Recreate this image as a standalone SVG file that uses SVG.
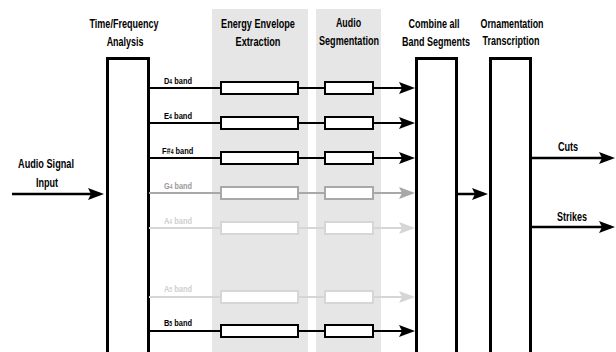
<svg xmlns="http://www.w3.org/2000/svg" width="616" height="352" viewBox="0 0 616 352">
<style>
.t{font-family:"Liberation Sans",Arial,sans-serif;font-weight:bold;font-size:12px;fill:#000;text-anchor:middle}
.b{font-family:"Liberation Sans",Arial,sans-serif;font-weight:bold;font-size:9.5px}
.sub{font-size:6.5px}
.box{fill:#fff;stroke:#000;stroke-width:3}
.seg{stroke-width:2}
.k{stroke:#000}.g{stroke:#a8a8a8}.l{stroke:#d6d6d6}
.kf{fill:#000}.gf{fill:#9a9a9a}.lf{fill:#cfcfcf}
.r{fill:#fff;stroke-width:2}
.panel{fill:#e6e6e6}
</style>
<defs>
<marker id="ak" markerUnits="userSpaceOnUse" markerWidth="16" markerHeight="12" refX="12" refY="6" orient="auto"><path d="M0,0 L16,6 L0,12 L3,6 z" fill="#000"/></marker>
<marker id="ag" markerUnits="userSpaceOnUse" markerWidth="16" markerHeight="12" refX="12" refY="6" orient="auto"><path d="M0,0 L16,6 L0,12 L3,6 z" fill="#a8a8a8"/></marker>
<marker id="al" markerUnits="userSpaceOnUse" markerWidth="16" markerHeight="12" refX="12" refY="6" orient="auto"><path d="M0,0 L16,6 L0,12 L3,6 z" fill="#d6d6d6"/></marker>
</defs>
<rect width="616" height="352" fill="#fff"/>
<g id="panels">
<rect class="panel" x="212" y="9" width="96" height="345"/>
<rect class="panel" x="316" y="9" width="65" height="345"/>
</g>
<g id="titles">
<text class="t" transform="translate(124,28) scale(0.75,1)" textLength="92" lengthAdjust="spacingAndGlyphs">Time/Frequency</text>
<text class="t" transform="translate(125,46) scale(0.75,1)" textLength="49" lengthAdjust="spacingAndGlyphs">Analysis</text>
<text class="t" transform="translate(258,28) scale(0.75,1)" textLength="98.5" lengthAdjust="spacingAndGlyphs">Energy Envelope</text>
<text class="t" transform="translate(258,46) scale(0.75,1)" textLength="60" lengthAdjust="spacingAndGlyphs">Extraction</text>
<text class="t" transform="translate(348.5,27) scale(0.75,1)" textLength="33.5" lengthAdjust="spacingAndGlyphs">Audio</text>
<text class="t" transform="translate(349,45) scale(0.75,1)" textLength="80" lengthAdjust="spacingAndGlyphs">Segmentation</text>
<text class="t" transform="translate(434,28) scale(0.75,1)" textLength="68" lengthAdjust="spacingAndGlyphs">Combine all</text>
<text class="t" transform="translate(436,46) scale(0.75,1)" textLength="90.5" lengthAdjust="spacingAndGlyphs">Band Segments</text>
<text class="t" transform="translate(512,28) scale(0.75,1)" textLength="84" lengthAdjust="spacingAndGlyphs">Ornamentation</text>
<text class="t" transform="translate(511,45) scale(0.75,1)" textLength="76" lengthAdjust="spacingAndGlyphs">Transcription</text>
</g>
<g id="input">
<text class="t" transform="translate(46,168) scale(0.75,1)" textLength="74.5" lengthAdjust="spacingAndGlyphs">Audio Signal</text>
<text class="t" transform="translate(47,187) scale(0.75,1)" textLength="29.5" lengthAdjust="spacingAndGlyphs">Input</text>
</g>
<g id="tfa"><rect class="box" x="107.5" y="58.5" width="41" height="300"/></g>
<g id="combine"><rect class="box" x="416.5" y="58.5" width="40" height="300"/></g>
<g id="ornament"><rect class="box" x="490.5" y="58.5" width="40" height="300"/></g>
<g id="connectors" fill="none">
<line class="k" stroke-width="2.5" x1="12" y1="194" x2="100" y2="194" marker-end="url(#ak)"/>
<line class="k" stroke-width="2.5" x1="458" y1="194" x2="484" y2="194" marker-end="url(#ak)"/>
<line class="k" stroke-width="2.5" x1="532" y1="158" x2="611" y2="158" marker-end="url(#ak)"/>
<line class="k" stroke-width="2.5" x1="532" y1="227" x2="611" y2="227" marker-end="url(#ak)"/>
<g class="k seg"><line x1="149" y1="88" x2="221" y2="88"/><line x1="298" y1="88" x2="325" y2="88"/><line x1="373" y1="88" x2="411" y2="88" marker-end="url(#ak)"/></g>
<g class="k seg"><line x1="149" y1="123" x2="221" y2="123"/><line x1="298" y1="123" x2="325" y2="123"/><line x1="373" y1="123" x2="411" y2="123" marker-end="url(#ak)"/></g>
<g class="k seg"><line x1="149" y1="158" x2="221" y2="158"/><line x1="298" y1="158" x2="325" y2="158"/><line x1="373" y1="158" x2="411" y2="158" marker-end="url(#ak)"/></g>
<g class="g seg"><line x1="149" y1="193" x2="221" y2="193"/><line x1="298" y1="193" x2="325" y2="193"/><line x1="373" y1="193" x2="411" y2="193" marker-end="url(#ag)"/></g>
<g class="l seg"><line x1="149" y1="228" x2="221" y2="228"/><line x1="298" y1="228" x2="325" y2="228"/><line x1="373" y1="228" x2="411" y2="228" marker-end="url(#al)"/></g>
<g class="l seg"><line x1="149" y1="297" x2="221" y2="297"/><line x1="298" y1="297" x2="325" y2="297"/><line x1="373" y1="297" x2="411" y2="297" marker-end="url(#al)"/></g>
<g class="k seg"><line x1="149" y1="331" x2="221" y2="331"/><line x1="298" y1="331" x2="325" y2="331"/><line x1="373" y1="331" x2="411" y2="331" marker-end="url(#ak)"/></g>
</g>
<g id="bands">
<g id="band-d4"><text class="b kf" transform="translate(164,84) scale(0.78,1)" textLength="36" lengthAdjust="spacingAndGlyphs">D<tspan class="sub">4</tspan> band</text><rect class="r k" x="221" y="82" width="77" height="12"/><rect class="r k" x="325" y="82" width="48" height="12"/></g>
<g id="band-e4"><text class="b kf" transform="translate(164,119) scale(0.78,1)" textLength="36" lengthAdjust="spacingAndGlyphs">E<tspan class="sub">4</tspan> band</text><rect class="r k" x="221" y="117" width="77" height="12"/><rect class="r k" x="325" y="117" width="48" height="12"/></g>
<g id="band-f4"><text class="b kf" transform="translate(162,154) scale(0.78,1)" textLength="40" lengthAdjust="spacingAndGlyphs">F#<tspan class="sub">4</tspan> band</text><rect class="r k" x="221" y="152" width="77" height="12"/><rect class="r k" x="325" y="152" width="48" height="12"/></g>
<g id="band-g4"><text class="b gf" transform="translate(164,189) scale(0.78,1)" textLength="36" lengthAdjust="spacingAndGlyphs">G<tspan class="sub">4</tspan> band</text><rect class="r g" x="221" y="187" width="77" height="12"/><rect class="r g" x="325" y="187" width="48" height="12"/></g>
<g id="band-a4"><text class="b lf" transform="translate(164,224) scale(0.78,1)" textLength="36" lengthAdjust="spacingAndGlyphs">A<tspan class="sub">4</tspan> band</text><rect class="r l" x="221" y="222" width="77" height="12"/><rect class="r l" x="325" y="222" width="48" height="12"/></g>
<g id="band-a5"><text class="b lf" transform="translate(164,292) scale(0.78,1)" textLength="36" lengthAdjust="spacingAndGlyphs">A<tspan class="sub">5</tspan> band</text><rect class="r l" x="221" y="291" width="77" height="12"/><rect class="r l" x="325" y="291" width="48" height="12"/></g>
<g id="band-b5"><text class="b kf" transform="translate(164,326) scale(0.78,1)" textLength="36" lengthAdjust="spacingAndGlyphs">B<tspan class="sub">5</tspan> band</text><rect class="r k" x="221" y="325" width="77" height="12"/><rect class="r k" x="325" y="325" width="48" height="12"/></g>
</g>
<g id="outputs">
<text class="t" transform="translate(568,151) scale(0.75,1)" textLength="27" lengthAdjust="spacingAndGlyphs">Cuts</text>
<text class="t" transform="translate(572,221) scale(0.75,1)" textLength="40" lengthAdjust="spacingAndGlyphs">Strikes</text>
</g>
</svg>
